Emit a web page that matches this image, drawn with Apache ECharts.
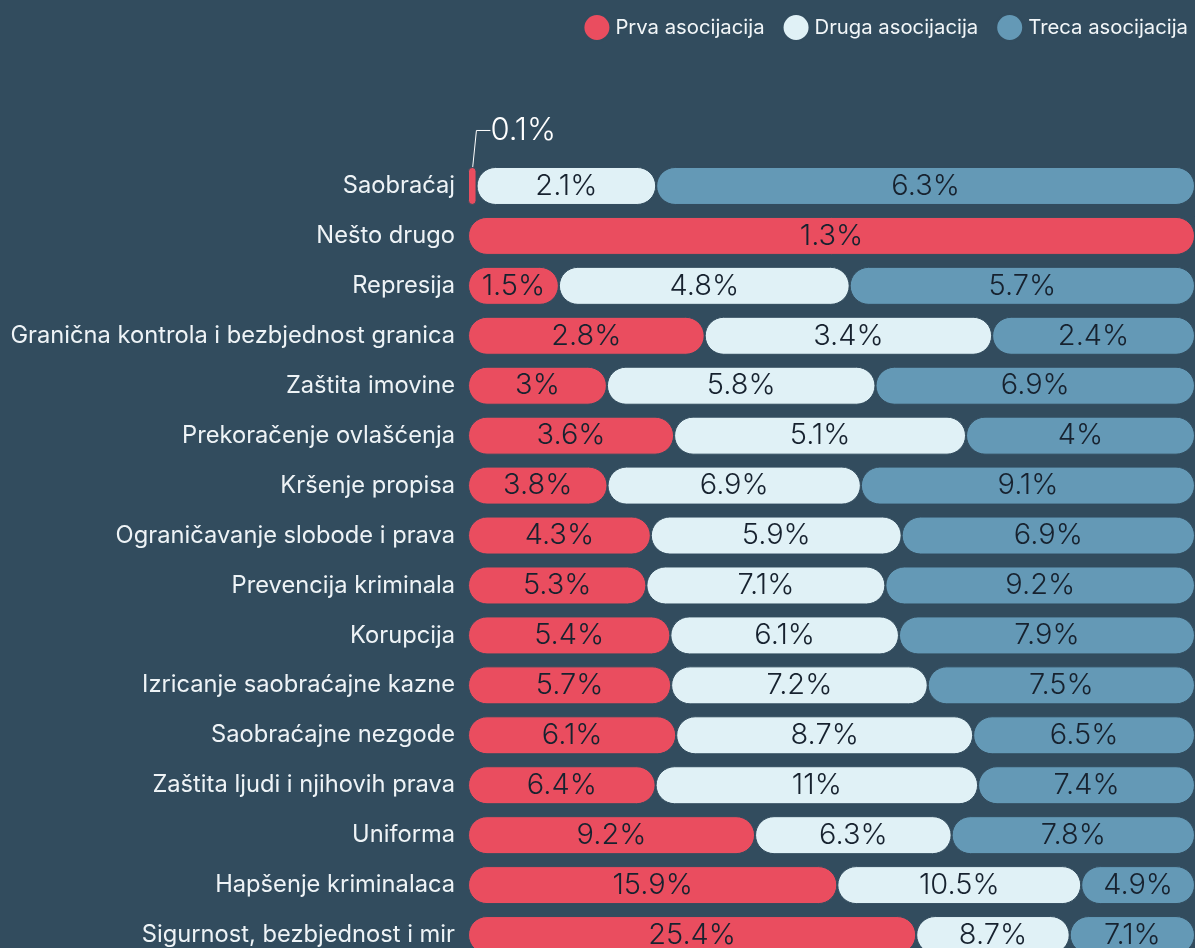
<!DOCTYPE html>
<html>
<head>
<meta charset="utf-8">
<script src="https://cdn.jsdelivr.net/npm/echarts@6/dist/echarts.min.js"></script>
<style>
  html, body { margin: 0; padding: 0; background: #324c5e; }
  #chart { width: 1195px; height: 948px; }
</style>
</head>
<body>
<div id="chart"></div>
<script>
var categories = ['Saobraćaj', 'Nešto drugo', 'Represija', 'Granična kontrola i bezbjednost granica',
    'Zaštita imovine', 'Prekoračenje ovlašćenja', 'Kršenje propisa', 'Ograničavanje slobode i prava',
    'Prevencija kriminala', 'Korupcija', 'Izricanje saobraćajne kazne', 'Saobraćajne nezgode',
    'Zaštita ljudi i njihovih prava', 'Uniforma', 'Hapšenje kriminalaca', 'Sigurnost, bezbjednost i mir'];
var prva = [0.1, 1.3, 1.5, 2.8, 3, 3.6, 3.8, 4.3, 5.3, 5.4, 5.7, 6.1, 6.4, 9.2, 15.9, 25.4];
var druga = [2.1, 0, 4.8, 3.4, 5.8, 5.1, 6.9, 5.9, 7.1, 6.1, 7.2, 8.7, 11, 6.3, 10.5, 8.7];
var treca = [6.3, 0, 5.7, 2.4, 6.9, 4, 9.1, 6.9, 9.2, 7.9, 7.5, 6.5, 7.4, 7.8, 4.9, 7.1];
var names = ['Prva asocijacija', 'Druga asocijacija', 'Treca asocijacija'];
var colors = ['#ea4d5f', '#e0f1f6', '#6499b6'];

var chart = echarts.init(document.getElementById('chart'));

// each row is scaled to 100% of the width, labels show the raw value
function rowData(arr) {
    return arr.map(function (v, i) {
        var sum = prva[i] + druga[i] + treca[i];
        return { value: v / sum * 100, raw: v };
    });
}

var sources = [prva, druga, treca];
var series = sources.map(function (arr, k) {
    var data = rowData(arr);
    if (k === 0) {
        // small value gets label outside with a guide line
        data[0].label = { position: 'top', color: '#ffffff', fontSize: 31, padding: [0, 0, 0, 6] };
        data[0].labelLine = { show: true, length2: 14, lineStyle: { color: '#ffffff', width: 1 } };
    }
    return {
        name: names[k],
        type: 'bar',
        stack: 'all',
        barWidth: 38,
        data: data,
        itemStyle: {
            color: colors[k],
            borderRadius: 19,
            borderColor: '#324c5e',
            borderWidth: 1
        },
        label: {
            show: true,
            position: 'inside',
            fontFamily: 'Inter',
            fontSize: 29,
            fontWeight: 300,
            color: '#17222f',
            formatter: function (p) {
                return p.data.raw ? p.data.raw + '%' : '';
            }
        },
        labelLayout: function (p) {
            if (k === 0 && p.dataIndex === 0) {
                return { dx: 48, dy: -16 };
            }
        }
    };
});

chart.setOption({
    backgroundColor: '#324c5e',
    legend: {
        right: 2,
        top: 8,
        icon: 'circle',
        itemWidth: 27,
        itemHeight: 27,
        itemGap: 17,
        textStyle: { color: '#f2f6f8', fontFamily: 'Inter', fontSize: 20.3 },
        data: names
    },
    grid: { left: 468, right: 0, top: 161, bottom: -12, outerBoundsMode: 'none' },
    xAxis: { type: 'value', min: 0, max: 100, show: false },
    yAxis: {
        type: 'category',
        inverse: true,
        data: categories,
        axisLine: { show: false },
        axisTick: { show: false },
        axisLabel: { color: '#eef3f6', fontFamily: 'Inter', fontSize: 23.7, margin: 13 }
    },
    series: series
});
</script>
</body>
</html>
